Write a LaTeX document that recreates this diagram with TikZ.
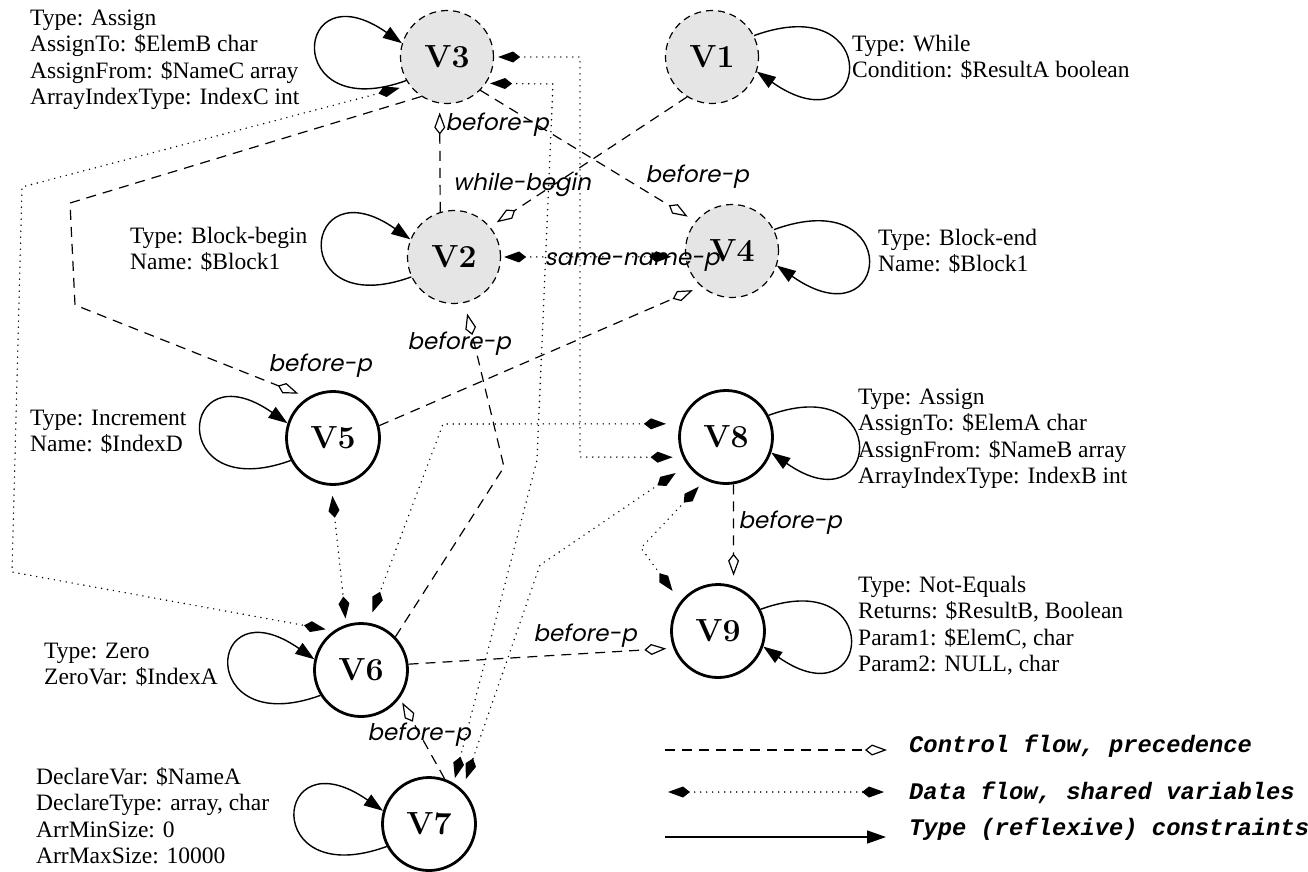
\documentclass[tikz,border=0pt]{standalone}
\usepackage{fontspec}
\usetikzlibrary{arrows.meta}
\newfontfamily\labelfont{Liberation Serif}
\newfontfamily\edgefont[FakeSlant=0.2]{Poppins}
\newfontfamily\legendfont{Liberation Mono}
\newcommand\infolines[1]{\begin{tabular}[t]{@{}l@{}}#1\end{tabular}}

\begin{document}
\begin{tikzpicture}[x=1pt, y=1pt,
  vtx/.style={circle, minimum size=93pt, inner sep=0pt,
    font=\fontsize{32}{32}\selectfont\bfseries},
  ctrlvtx/.style={vtx, fill=black!10, draw=black, line width=1.2pt,
    dash pattern=on 7pt off 5pt},
  datavtx/.style={vtx, fill=white, draw=black, line width=2.8pt},
  info/.style={font=\labelfont\fontsize{23.5}{26.5}\selectfont,
    inner sep=0pt, anchor=base west},
  elabel/.style={font=\edgefont\fontsize{23}{23}\selectfont, inner sep=0pt},
  legendtext/.style={font=\legendfont\bfseries\itshape\fontsize{23.8}{23.8}\selectfont,
    inner sep=0pt, anchor=base west},
  ctrl/.style={line width=1.2pt, dash pattern=on 10pt off 7pt,
    -{Kite[open, length=22pt, width=11pt, inset=7pt, line width=1.2pt]},
    shorten >=8pt},
  data/.style={line width=1.6pt, line cap=round, dash pattern=on 0pt off 6pt,
    {Kite[length=22pt, width=11pt, inset=7pt]}-{Kite[length=22pt, width=11pt, inset=7pt]},
    shorten >=8pt, shorten <=8pt},
  reflex/.style={line width=1.4pt, -{Triangle[length=19pt, width=13pt]}}
]
\useasboundingbox (0,0) rectangle (1308,-871);

% ---- vertices ----
\node[ctrlvtx] (V3) at (447,-57) {V3};
\node[ctrlvtx] (V1) at (712,-57) {V1};
\node[ctrlvtx] (V2) at (454,-257) {V2};
\node[ctrlvtx] (V4) at (732,-251) {V4};
\node[datavtx] (V5) at (333,-438) {V5};
\node[datavtx] (V6) at (361,-670) {V6};
\node[datavtx] (V7) at (429,-824) {V7};
\node[datavtx] (V8) at (726,-437) {V8};
\node[datavtx] (V9) at (718,-631) {V9};

% ---- attribute texts ----
\node[info] (t3) at (30,-25) {\infolines{Type: Assign\\AssignTo: \$ElemB char\\AssignFrom: \$NameC array\\ArrayIndexType: IndexC int}};
\node[info] (t1) at (852,-51) {\infolines{Type: While\\Condition: \$ResultA boolean}};
\node[info] (t2) at (130,-243) {\infolines{Type: Block-begin\\Name: \$Block1}};
\node[info] (t4) at (878,-245) {\infolines{Type: Block-end\\Name: \$Block1}};
\node[info] (t5) at (30,-425) {\infolines{Type: Increment\\Name: \$IndexD}};
\node[info] (t8) at (858,-404) {\infolines{Type: Assign\\AssignTo: \$ElemA char\\AssignFrom: \$NameB array\\ArrayIndexType: IndexB int}};
\node[info] (t9) at (858,-592) {\infolines{Type: Not-Equals\\Returns: \$ResultB, Boolean\\Param1: \$ElemC, char\\Param2: NULL, char}};
\node[info] (t6) at (44,-658) {\infolines{Type: Zero\\ZeroVar: \$IndexA}};
\node[info] (t7) at (36,-784) {\infolines{DeclareVar: \$NameA\\DeclareType: array, char\\ArrMinSize: 0\\ArrMaxSize: 10000}};

% ---- reflexive type constraints ----
\draw[reflex] (V3.210) .. controls +(200:133) and +(145:133) .. (V3.163);
\draw[reflex] (V2.205) .. controls +(200:133) and +(145:133) .. (V2.158);
\draw[reflex] (V5.208) .. controls +(200:133) and +(145:133) .. (V5.162);
\draw[reflex] (V6.212) .. controls +(200:133) and +(145:133) .. (V6.167);
\draw[reflex] (V7.208) .. controls +(200:135) and +(145:135) .. (V7.164);
\draw[reflex] (V1.27) .. controls +(20:140) and +(-35:140) .. (V1.-18);
\draw[reflex] (V4.27) .. controls +(20:140) and +(-35:140) .. (V4.-18);
\draw[reflex] (V8.27) .. controls +(20:133) and +(-35:133) .. (V8.-19);
\draw[reflex] (V9.27) .. controls +(20:133) and +(-35:133) .. (V9.-19);

% ---- control flow / precedence ----
\draw[ctrl, shorten >=9pt] (V2.107) -- (V3.261);
\draw[ctrl] (V1.238) -- (V2.40);
\draw[ctrl, shorten >=9pt] (V3.315) -- (V4.141);
\draw[ctrl, shorten >=10pt] (V3.237) -- (70,-203) -- (75,-305) -- (V5.122);
\draw[ctrl, shorten >=9pt] (V5.15) -- (V4.229);
\draw[ctrl, shorten >=11pt] (V6.44) -- (504,-467) -- (V2.283);
\draw[ctrl, shorten >=10pt] (V8.279) -- (V9.71);
\draw[ctrl, shorten >=7pt] (V6.7) -- (V9.201);
\draw[ctrl, shorten >=5pt] (V7.71) -- (V6.324);

% ---- data flow / shared variables ----
\draw[data, shorten <=10pt] (V3.217) -- (22,-187) -- (12,-572) -- (V6.125);
\draw[data, shorten <=4pt, shorten >=10pt] (V3.0) -- (580,-57) -- (580,-457) -- (V8.205);
\draw[data, shorten <=4pt, shorten >=5pt] (V3.326) -- (553,-84) -- (537,-460) -- (V7.59);
\draw[data, shorten <=10pt, shorten >=6pt] (V5.268) -- (V6.108);
\draw[data, shorten <=14pt, shorten >=11pt] (V8.164) -- (443,-424) -- (V6.81);
\draw[data, shorten <=9pt, shorten >=13pt] (V8.244) -- (641,-548) -- (V9.142);
\draw[data, shorten <=3pt, shorten >=14pt] (V2.0) -- (V4.187);
\draw[data, shorten <=14pt, shorten >=11pt] (V8.216) -- (540,-565) -- (V7.46);

% ---- relation names ----
\node[elabel] (e1) at (497,-125) {before-p};
\node[elabel] (e2) at (522,-185) {while-begin};
\node[elabel] (e3) at (697,-177) {before-p};
\node[elabel] (e4) at (320,-366) {before-p};
\node[elabel] (e5) at (459,-344) {before-p};
\node[elabel] (e6) at (632,-262) {same-name-p};
\node[elabel] (e7) at (790,-523) {before-p};
\node[elabel] (e8) at (585,-636) {before-p};
\node[elabel] (e9) at (419,-735) {before-p};

% ---- legend ----
\coordinate (l1a) at (665,-750);
\coordinate (l1b) at (887,-750);
\coordinate (l2a) at (668,-792);
\coordinate (l2b) at (884,-792);
\coordinate (l3a) at (665,-837);
\coordinate (l3b) at (886,-837);
\draw[ctrl, shorten >=0pt] (l1a) -- (l1b);
\draw[data, shorten >=0pt, shorten <=0pt] (l2a) -- (l2b);
\draw[reflex] (l3a) -- (l3b);
\node[legendtext] (lt1) at (909,-752) {Control flow, precedence};
\node[legendtext] (lt2) at (909,-799) {Data flow, shared variables};
\node[legendtext] (lt3) at (909,-835) {Type (reflexive) constraints};
\end{tikzpicture}
\end{document}
